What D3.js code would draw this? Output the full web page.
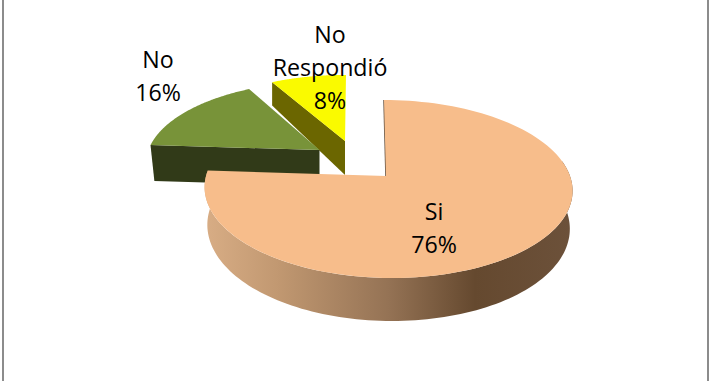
<!DOCTYPE html>
<html><head><meta charset="utf-8">
<script src="https://cdnjs.cloudflare.com/ajax/libs/d3/7.9.0/d3.min.js"></script>
<style>html,body{margin:0;padding:0;background:#fff}svg{display:block}</style>
</head><body><svg id="c" width="711" height="381"></svg>
<script>
const categories = ["Si", "No", "No Respondió"];
const values = [76, 16, 8];
const labelLines = [["Si"], ["No"], ["No", "Respondió"]];

const svg = d3.select("#c");
const W = 711, H = 381;

// Perspective projection of the pie plane
const k = 0.146, B = 182, A = 87.1;
const project = (a, r = 1) => {
  const u = Math.sin(a) * r, v = -Math.cos(a) * r, s = 1 / (1 - k * v);
  return { x: B * u * s, y: A * v * s, v };
};
const pieGen = d3.pie().sort(null).value(d => d);
const arcs = pieGen(values);

const styles = [
  { cx: 388, cy: 176, sx: 1, sy: 1, skew: 4, hub: -2, d0: 37, d1: 6, bot: 0.985, top: "#f7bd8b", wall: "url(#siWall)" },
  { cx: 319.5, cy: 150, sx: 0.94, sy: 0.9, skew: -3, hub: 0, d0: 36, d1: 0, bot: 0.977, top: "#789339", wall: "#313a18" },
  { cx: 346, cy: 141, sx: 0.95, sy: 0.87, skew: 0, hub: -1, d0: 34, d1: 12, bot: 1, top: "#fafa00", wall: "#6b6600" }
];

const upper = (st, a, r = 1) => {
  const p = project(a, r);
  return [st.cx + p.x * st.sx + st.skew * p.v + st.hub * (1 - r), st.cy + p.y * st.sy];
};
const lower = (st, a, r = 1) => {
  const p = project(a, r);
  return [st.cx + (p.x * st.sx + st.skew * p.v) * st.bot + st.hub * (1 - r), st.cy + p.y * st.sy + st.d0 + st.d1 * p.v];
};
const sweep = (a0, a1) => d3.range(0, 121).map(i => a0 + (a1 - a0) * i / 120);
const line = d3.line();

const defs = svg.append("defs");
const grad = defs.append("linearGradient").attr("id", "siWall")
  .attr("gradientUnits", "userSpaceOnUse").attr("x1", 205).attr("x2", 570).attr("y1", 0).attr("y2", 0);
[[0, "#d8ad85"], [0.2, "#c19871"], [0.5, "#957355"], [0.74, "#65492f"], [1, "#6c513a"]]
  .forEach(([o, c]) => grad.append("stop").attr("offset", o).attr("stop-color", c));

// frame lines
svg.selectAll("line.frame").data([3, 708]).join("line").attr("class", "frame")
  .attr("x1", d => d).attr("x2", d => d).attr("y1", 0).attr("y2", H)
  .attr("stroke", "#8c8c8c").attr("stroke-width", 2);

// walls and tops drawn back to front
[2, 1, 0].forEach(i => {
  const st = styles[i], a = arcs[i];
  if (i === 0) {
    const th = sweep(80 * Math.PI / 180, a.endAngle);
    const poly = th.map(t => lower(st, t)).concat(th.slice().reverse().map(t => upper(st, t)));
    // thin inner wall at the start of the slice
    svg.append("path").attr("d", line([upper(st, 0, 0), upper(st, 0)]))
      .attr("stroke", "#6b5a4a").attr("stroke-width", 1.6).attr("fill", "none");
    svg.append("path").attr("d", line(poly) + "Z").attr("fill", st.wall);
  } else {
    const edge = a.startAngle;
    const poly = [upper(st, edge), upper(st, edge, 0), lower(st, edge, 0), lower(st, edge)];
    svg.append("path").attr("d", line(poly) + "Z").attr("fill", st.wall);
  }
  const top = [upper(st, 0, 0)].concat(sweep(a.startAngle, a.endAngle).map(t => upper(st, t)));
  svg.append("path").attr("d", line(top) + "Z").attr("fill", st.top);
});

// labels
const labelPos = [
  { x: 434, y: 220 },
  { x: 158, y: 68 },
  { x: 330, y: 43 }
];
const fs = 23.2, lh = 33;
categories.forEach((c, i) => {
  const lines = labelLines[i].concat([values[i] + "%"]);
  const t = svg.append("text").attr("text-anchor", "middle")
    .attr("font-family", "'Open Sans', 'Noto Sans', sans-serif").attr("font-size", fs).attr("fill", "#000");
  lines.forEach((l, j) => {
    t.append("tspan").attr("x", labelPos[i].x).attr("y", labelPos[i].y + j * lh).text(l);
  });
});
</script></body></html>
